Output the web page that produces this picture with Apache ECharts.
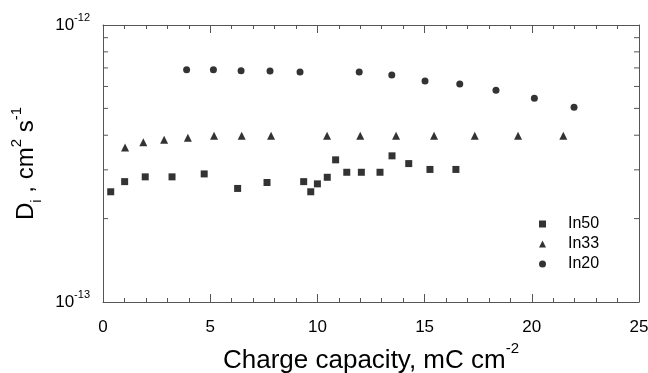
<!DOCTYPE html>
<html>
<head>
<meta charset="utf-8">
<script src="https://cdn.jsdelivr.net/npm/echarts@6/dist/echarts.min.js"></script>
<style>
  html, body { margin: 0; padding: 0; background: #fff; }
  #chart { width: 648px; height: 373px; }
</style>
</head>
<body>
<div id="chart"></div>
<script>
// values (x: mC cm^-2, y: cm^2 s^-1)
const in50X = [0.36, 1.01, 1.97, 3.22, 4.72, 6.28, 7.65, 9.36, 9.69, 10.0, 10.46, 10.85, 11.37, 12.05, 12.92, 13.48, 14.26, 15.25, 16.46];
const in50Y = [2.50e-13, 2.72e-13, 2.83e-13, 2.83e-13, 2.90e-13, 2.57e-13, 2.70e-13, 2.72e-13, 2.50e-13, 2.67e-13, 2.82e-13, 3.26e-13, 2.94e-13, 2.94e-13, 2.94e-13, 3.37e-13, 3.16e-13, 3.01e-13, 3.01e-13];

const in33X = [1.03, 1.88, 2.85, 3.96, 5.18, 6.47, 7.84, 10.45, 12.0, 13.67, 15.44, 17.34, 19.36, 21.47];
const in33Y = [3.61e-13, 3.77e-13, 3.85e-13, 3.92e-13, 3.98e-13, 3.98e-13, 3.98e-13, 3.98e-13, 3.98e-13, 3.98e-13, 3.98e-13, 3.98e-13, 3.98e-13, 3.98e-13];

const in20X = [3.90, 5.15, 6.44, 7.79, 9.19, 11.95, 13.47, 15.02, 16.64, 18.33, 20.12, 21.97];
const in20Y = [6.90e-13, 6.90e-13, 6.84e-13, 6.82e-13, 6.77e-13, 6.76e-13, 6.60e-13, 6.28e-13, 6.12e-13, 5.81e-13, 5.44e-13, 5.05e-13];

const seriesNames = ['In50', 'In33', 'In20'];
const yMinorTicks = [2e-13, 3e-13, 4e-13, 5e-13, 6e-13, 7e-13, 8e-13, 9e-13];

const FONT = 'Liberation Sans, Arial, sans-serif';
const LINE = '#555';

const zip = (xs, ys) => xs.map((x, i) => [x, ys[i]]);

const chart = echarts.init(document.getElementById('chart'));

// small inward ticks at 2..9 x 10^-13 on both y edges
const renderMinor = (params, api) => {
  const v = api.value(0);
  const l = api.coord([0, v]);
  const r = api.coord([25, v]);
  return {
    type: 'group',
    children: [
      { type: 'line', shape: { x1: l[0], y1: l[1], x2: l[0] + 5, y2: l[1] }, style: { stroke: LINE, lineWidth: 1 } },
      { type: 'line', shape: { x1: r[0], y1: r[1], x2: r[0] - 5, y2: r[1] }, style: { stroke: LINE, lineWidth: 1 } }
    ]
  };
};

const xBase = {
  type: 'value',
  min: 0,
  max: 25,
  interval: 5,
  axisLine: { show: true, onZero: false, lineStyle: { color: LINE, width: 1 } },
  axisTick: { show: true, inside: true, length: 8, lineStyle: { color: LINE } },
  minorTick: { show: true, splitNumber: 5, length: 4, lineStyle: { color: LINE } },
  splitLine: { show: false }
};

const yBase = {
  type: 'log',
  logBase: 10,
  min: 1e-13,
  max: 1e-12,
  axisLine: { show: true, onZero: false, lineStyle: { color: LINE, width: 1 } },
  axisTick: { show: false },
  splitLine: { show: false }
};

chart.setOption({
  animation: false,
  backgroundColor: '#fff',
  textStyle: { fontFamily: FONT },
  grid: { left: 103, right: 9, top: 25, bottom: 71, outerBoundsMode: 'none', containLabel: false },
  legend: {
    orient: 'vertical',
    left: 534,
    top: 211,
    itemWidth: 7,
    itemHeight: 7,
    itemGap: 4,
    data: [
      { name: 'In50', icon: 'rect' },
      { name: 'In33', icon: 'triangle' },
      { name: 'In20', icon: 'circle' }
    ],
    textStyle: { fontFamily: FONT, fontSize: 16, color: '#000', padding: [0, 0, 0, 17] }
  },
  xAxis: [
    Object.assign({}, xBase, {
      position: 'bottom',
      name: 'Charge capacity, mC cm{sup|-2}',
      nameLocation: 'middle',
      nameGap: 36,
      nameTextStyle: {
        fontFamily: FONT, fontSize: 26, color: '#000',
        rich: { sup: { fontFamily: FONT, fontSize: 15, color: '#000', padding: [0, 0, 24, 0] } }
      },
      axisLabel: { margin: 17, fontSize: 17, color: '#000', fontFamily: FONT }
    }),
    Object.assign({}, xBase, { position: 'top', axisLabel: { show: false } })
  ],
  yAxis: [
    Object.assign({}, yBase, {
      position: 'left',
      name: 'D{sub|i} , cm{sup|2} s{sup|-1}',
      nameLocation: 'middle',
      nameGap: 50,
      nameRotate: 90,
      nameTextStyle: {
        fontFamily: FONT, fontSize: 24, color: '#000',
        rich: {
          sup: { fontFamily: FONT, fontSize: 15, color: '#000', padding: [0, 0, 20, 0] },
          sub: { fontFamily: FONT, fontSize: 15, color: '#000', padding: [20, 0, 0, 0] }
        }
      },
      axisLabel: {
        margin: 13,
        fontSize: 17,
        color: '#000',
        fontFamily: FONT,
        formatter: v => '10{sup|' + Math.round(Math.log10(v)) + '}',
        rich: { sup: { fontFamily: FONT, fontSize: 11, color: '#000', padding: [0, 0, 15, 0] } }
      }
    }),
    Object.assign({}, yBase, { position: 'right', axisLabel: { show: false } })
  ],
  series: [
    {
      name: seriesNames[0], type: 'scatter', symbol: 'rect', symbolSize: 7,
      itemStyle: { color: '#000' }, data: zip(in50X, in50Y)
    },
    {
      name: seriesNames[1], type: 'scatter', symbol: 'triangle', symbolSize: 8,
      itemStyle: { color: '#000' }, data: zip(in33X, in33Y)
    },
    {
      name: seriesNames[2], type: 'scatter', symbol: 'circle', symbolSize: 7,
      itemStyle: { color: '#000' }, data: zip(in20X, in20Y)
    },
    {
      type: 'custom', renderItem: renderMinor, silent: true,
      data: yMinorTicks.map(v => [v]),
      encode: { y: 0 }
    }
  ]
});
</script>
</body>
</html>
